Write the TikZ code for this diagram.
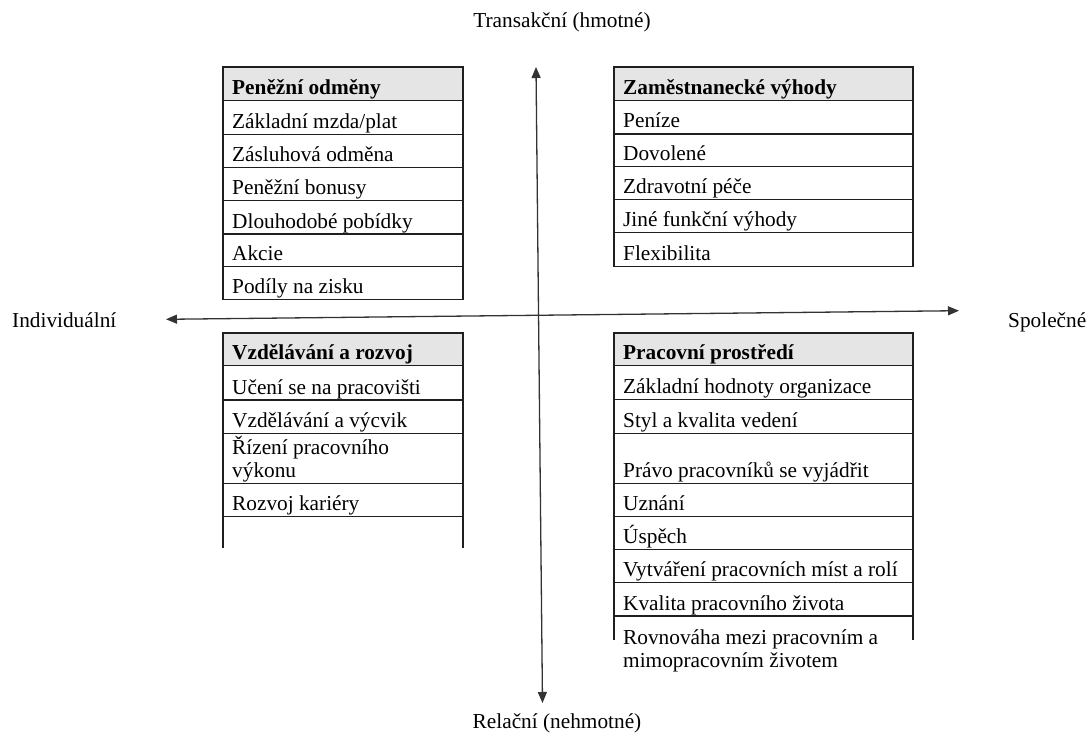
\documentclass[tikz,border=0pt]{standalone}
\usepackage{fontspec}
\setmainfont{Liberation Serif}
\usetikzlibrary{arrows.meta}
\begin{document}
\begin{tikzpicture}[x=1bp,y=-1bp,
  font=\fontsize{21.3bp}{23bp}\selectfont,
  tbl/.style={line width=1.2bp, draw=black!88},
  hdrfill/.style={fill=black!10},
  cell/.style={anchor=base west, inner sep=0pt},
  hdr/.style={cell, font=\fontsize{21.3bp}{23bp}\selectfont\bfseries},
  axisline/.style={line width=1.3bp, draw=black!80,
    {Triangle[length=11bp,width=9bp]}-{Triangle[length=11bp,width=9bp]}},
  lbl/.style={inner sep=0pt}]
\useasboundingbox (0,0) rectangle (1090,734);

% ---------- top-left table ----------
\fill[hdrfill] (223,67) rectangle (463,100.7);
\draw[tbl] (223,67) rectangle (463,299.3);
\foreach \yy in {100.7,134.7,167.3,200.7,234,266.7}
  \draw[tbl] (223,\yy) -- (463,\yy);
\node[hdr]  (a0) at (232,94.7)  {Peněžní odměny};
\node[cell] (a1) at (232,128.7) {Základní mzda/plat};
\node[cell] (a2) at (232,161.3) {Zásluhová odměna};
\node[cell] (a3) at (232,194.7) {Peněžní bonusy};
\node[cell] (a4) at (232,228)   {Dlouhodobé pobídky};
\node[cell] (a5) at (232,260.7) {Akcie};
\node[cell] (a6) at (232,293.3) {Podíly na zisku};

% ---------- top-right table ----------
\fill[hdrfill] (614,67) rectangle (913,100.7);
\draw[tbl] (614,67) rectangle (913,266.7);
\foreach \yy in {100.7,134,166.7,199.3,232.7}
  \draw[tbl] (614,\yy) -- (913,\yy);
\node[hdr]  (b0) at (623,94.7)  {Zaměstnanecké výhody};
\node[cell] (b1) at (623,128)   {Peníze};
\node[cell] (b2) at (623,160.7) {Dovolené};
\node[cell] (b3) at (623,193.3) {Zdravotní péče};
\node[cell] (b4) at (623,226.7) {Jiné funkční výhody};
\node[cell] (b5) at (623,260.7) {Flexibilita};

% ---------- bottom-left table ----------
\fill[hdrfill] (223,333) rectangle (463,365.7);
\draw[tbl] (223,548.3) -- (223,333) -- (463,333) -- (463,548.3);
\foreach \yy in {365.7,400,433.3,483.3,516.7}
  \draw[tbl] (223,\yy) -- (463,\yy);
\node[hdr]  (c0)  at (232,359.7) {Vzdělávání a rozvoj};
\node[cell] (c1)  at (232,394)   {Učení se na pracovišti};
\node[cell] (c2)  at (232,427.3) {Vzdělávání a výcvik};
\node[cell] (c3a) at (232,454.3) {Řízení pracovního};
\node[cell] (c3b) at (232,477.3) {výkonu};
\node[cell] (c4)  at (232,510.7) {Rozvoj kariéry};

% ---------- bottom-right table ----------
\fill[hdrfill] (614,333) rectangle (913,365.7);
\draw[tbl] (614,640) -- (614,333) -- (913,333) -- (913,640);
\foreach \yy in {365.7,399.3,433.3,483.3,516.7,549.3,582.7,616}
  \draw[tbl] (614,\yy) -- (913,\yy);
\node[hdr]  (d0)  at (623,359.7) {Pracovní prostředí};
\node[cell] (d1)  at (623,393.3) {Základní hodnoty organizace};
\node[cell] (d2)  at (623,427.3) {Styl a kvalita vedení};
\node[cell] (d3)  at (623,477.3) {Právo pracovníků se vyjádřit};
\node[cell] (d4)  at (623,510.7) {Uznání};
\node[cell] (d5)  at (623,543.3) {Úspěch};
\node[cell] (d6)  at (623,576.7) {Vytváření pracovních míst a rolí};
\node[cell] (d7)  at (623,610)   {Kvalita pracovního života};
\node[cell] (d8a) at (623,644)   {Rovnováha mezi pracovním a};
\node[cell] (d8b) at (623,667)   {mimopracovním životem};

% ---------- axis labels ----------
\node[lbl, anchor=base]      (ltop)   at (562,28)  {Transakční (hmotné)};
\node[lbl, anchor=base]      (lbot)   at (557,728) {Relační (nehmotné)};
\node[lbl, anchor=base west] (lleft)  at (12,327)  {Individuální};
\node[lbl, anchor=base west] (lright) at (1008,327){Společné};

% ---------- axes ----------
\coordinate (vt) at (536,67);
\coordinate (vb) at (542.5,703);
\coordinate (hl) at (166,319.3);
\coordinate (hr) at (959,310.7);
\draw[axisline] (vt) -- (vb);
\draw[axisline] (hl) -- (hr);
\end{tikzpicture}
\end{document}
